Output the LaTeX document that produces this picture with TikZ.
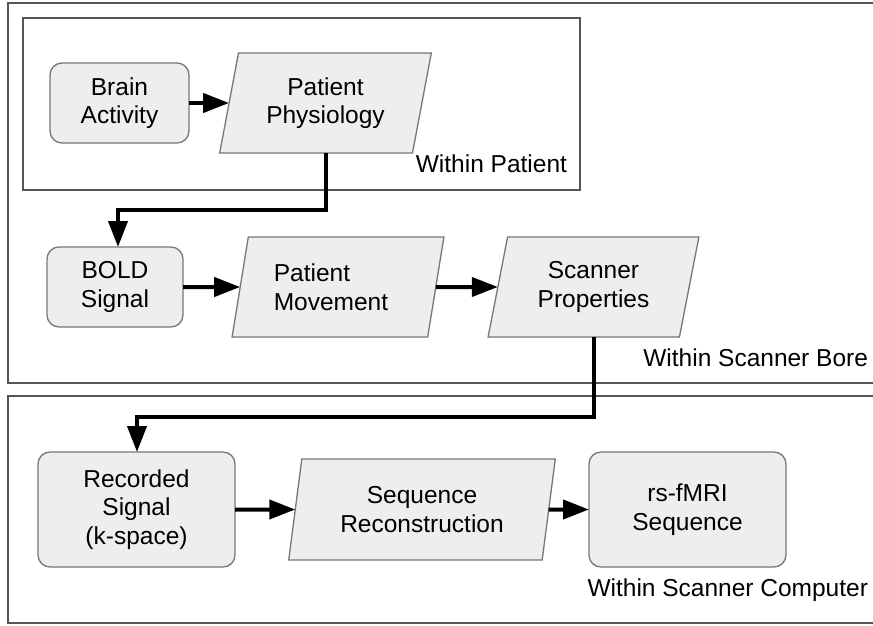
\documentclass[tikz,border=0pt]{standalone}
\usepackage{fontspec}
\setmainfont{Liberation Sans}
\usetikzlibrary{shapes.geometric,arrows.meta}
\definecolor{nodefill}{HTML}{EEEEEE}
\definecolor{nodeline}{HTML}{777777}
\definecolor{boxline}{HTML}{555555}
\begin{document}
\begin{tikzpicture}[x=1pt,y=-1pt,
  every node/.style={font=\fontsize{24.5}{28.5}\selectfont, inner sep=0pt, outer sep=0pt},
  roundbox/.style={draw=nodeline, line width=1.3pt, fill=nodefill, rounded corners=12pt, align=center},
  parabox/.style={draw=nodeline, line width=1.3pt, fill=nodefill, trapezium, trapezium stretches=true, align=center},
  areabox/.style={draw=boxline, line width=2.4pt},
  arr/.style={line width=4pt, -{Triangle[length=26pt,width=19pt]}},
  arealabel/.style={anchor=east}
]
\useasboundingbox (0,0) rectangle (873,626);
\clip (0,0) rectangle (873,626);
\fill[white] (0,0) rectangle (873,626);

% area boxes
\draw[areabox] (8,3) rectangle (890,383);
\draw[areabox] (8,396) rectangle (890,623);
\draw[areabox] (23,18) rectangle (580,190);

% nodes
\node[roundbox, minimum width=139pt, minimum height=80pt] (ba) at (119.5,103) {Brain\\Activity};
\node[parabox, trapezium left angle=76, trapezium right angle=104, minimum width=212pt, minimum height=100pt] (pp) at (325.5,103) {Patient\\Physiology};
\node[roundbox, minimum width=136pt, minimum height=80pt] (bold) at (115,287) {BOLD\\Signal};
\node[parabox, trapezium left angle=76, trapezium right angle=104, minimum width=212pt, minimum height=100pt, align=left] (pm) at (338,287) {Patient\\Movement\hspace*{14pt}};
\node[parabox, trapezium left angle=76, trapezium right angle=104, minimum width=211pt, minimum height=100pt] (sp) at (593.5,287) {Scanner\\Properties};
\node[roundbox, minimum width=197pt, minimum height=115pt] (rec) at (136.5,509.5) {Recorded\\Signal\\(k-space)};
\node[parabox, trapezium left angle=79, trapezium right angle=101, minimum width=267pt, minimum height=101pt] (sr) at (422,509.5) {Sequence\\Reconstruction};
\node[roundbox, minimum width=197pt, minimum height=115pt] (rs) at (687.5,509.5) {rs-fMRI\\Sequence};

% labels
\node[arealabel] (l1) at (567,164) {Within Patient};
\node[arealabel] (l2) at (868,358) {Within Scanner Bore};
\node[arealabel] (l3) at (868,590) {Within Scanner Computer};

% connectors
\coordinate (k1) at (118,210);
\coordinate (k2) at (137,417);
\draw[arr] (ba) -- (pp);
\draw[arr] (pp.south) |- (k1) -- (k1 |- bold.north);
\draw[arr] (bold) -- (pm);
\draw[arr] (pm) -- (sp);
\draw[arr] (sp.south) |- (k2) -- (k2 |- rec.north);
\draw[arr] (rec) -- (sr);
\draw[arr] (sr) -- (rs);
\end{tikzpicture}
\end{document}
